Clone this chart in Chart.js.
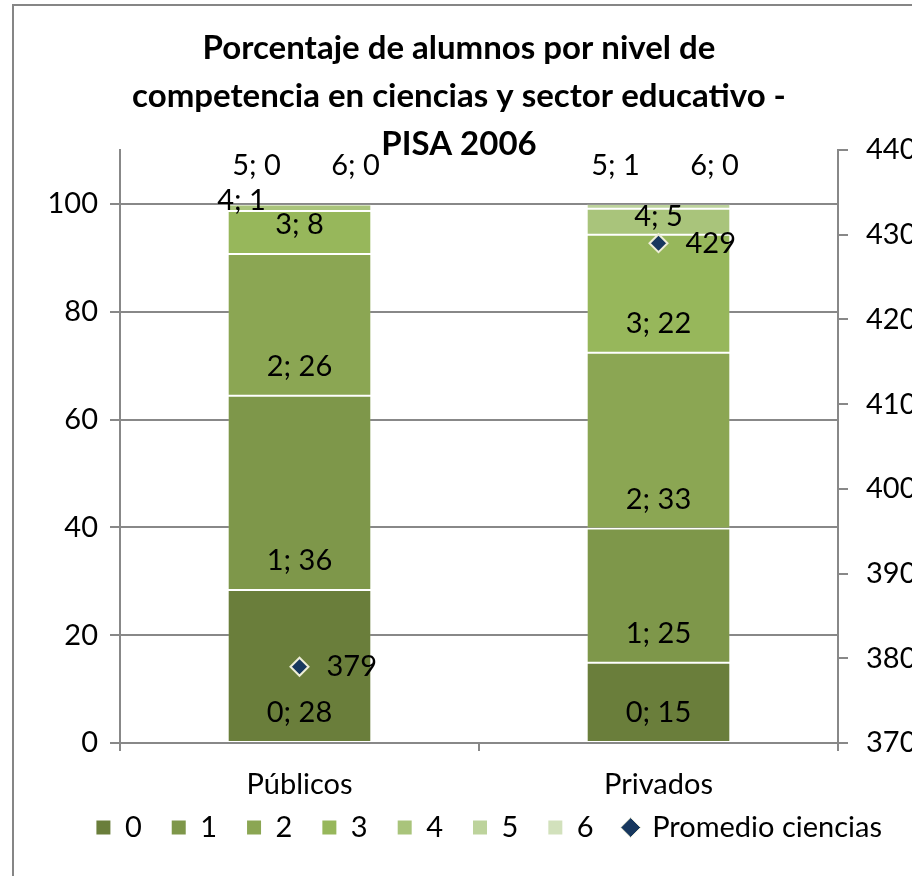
<!DOCTYPE html>
<html>
<head>
<meta charset="utf-8">
<script src="https://cdn.jsdelivr.net/npm/chart.js@4/dist/chart.umd.min.js"></script>
<style>
  html, body { margin: 0; padding: 0; background: #fff; }
  #wrap { width: 912px; height: 876px; }
</style>
</head>
<body>
<div id="wrap"><canvas id="chart" width="912" height="876"></canvas></div>
<script>
// datos PISA 2006, porcentaje por nivel
const categories = ["Públicos", "Privados"];
const levels = ["0", "1", "2", "3", "4", "5", "6"];
const nivel0 = [28.4, 14.9];
const nivel1 = [36.0, 24.9];
const nivel2 = [26.3, 32.6];
const nivel3 = [8.0, 21.9];
const nivel4 = [1.2, 4.8];
const nivel5 = [0.1, 0.9];
const nivel6 = [0.0, 0.0];
const promedio = [379, 429];

const levelData = [nivel0, nivel1, nivel2, nivel3, nivel4, nivel5, nivel6];
const colors = ["#6a7e3b", "#7e974a", "#8ba653", "#97b75b", "#a9c47b", "#bdd39c", "#d2e1bc"];

const FONT = "Lato, 'Open Sans', sans-serif";
const FS = 29;
Chart.defaults.font.family = FONT;
Chart.defaults.font.size = FS;
Chart.defaults.color = "#000";

// excel "inside base" labels, plus the ones it pushed above the bar
function labelSpot(ds, idx, el) {
    const h = el.base - el.y;
    if (ds === 5) return [el.x - 43, el.y - 38];
    if (ds === 6) return [el.x + 56, el.y - 38];
    if (ds === 4 && idx === 0) return [el.x - 58, el.y - 4];
    return [el.x, el.base - Math.min(29, h * 0.7)];
}

const labelsPlugin = {
    id: "valueLabels",
    afterDatasetsDraw(chart) {
        const ctx = chart.ctx;
        ctx.save();
        ctx.font = FS + "px " + FONT;
        ctx.fillStyle = "#000";
        ctx.textBaseline = "middle";
        for (let i = 0; i < levels.length; i++) {
            const meta = chart.getDatasetMeta(i);
            meta.data.forEach((el, j) => {
                const [x, y] = labelSpot(i, j, el);
                ctx.textAlign = "center";
                ctx.fillText(`${levels[i]}; ${Math.round(levelData[i][j])}`, x, y);
            });
        }
        const pm = chart.getDatasetMeta(levels.length);
        pm.data.forEach((el, j) => {
            ctx.textAlign = "left";
            ctx.fillText(String(promedio[j]), el.x + 27, el.y);
        });
        ctx.restore();
    }
};

const frame = {
    id: "frame",
    afterLayout(chart) {
        // pull the legend up a bit, it keeps the wide item padding
        chart.legend.top -= 18;
        chart.legend.bottom -= 18;
    },
    beforeDraw(chart) {
        const ctx = chart.ctx;
        ctx.save();
        ctx.fillStyle = "#fff";
        ctx.fillRect(0, 0, chart.width, chart.height);
        ctx.strokeStyle = "#868686";
        ctx.lineWidth = 2;
        ctx.strokeRect(13, 5, 1000, 1000);
        ctx.restore();
    },
    afterDraw(chart) {
        const ctx = chart.ctx;
        ctx.save();
        ctx.font = "bold 33px " + FONT;
        ctx.fillStyle = "#000";
        ctx.textAlign = "center";
        ctx.textBaseline = "middle";
        const lines = ["Porcentaje de alumnos por nivel de",
            "competencia en ciencias y sector educativo -",
            "PISA 2006"];
        lines.forEach((t, k) => ctx.fillText(t, 459, 48 + k * 48));
        ctx.restore();
    }
};

const datasets = levels.map((lv, i) => ({
    type: "bar",
    label: lv,
    data: levelData[i],
    backgroundColor: colors[i],
    borderColor: "rgba(255,255,255,0.13)",
    borderWidth: 1,
    borderSkipped: false,
    yAxisID: "y",
    order: 1,
    barPercentage: 0.4,
    categoryPercentage: 1
}));

datasets.push({
    type: "line",
    label: "Promedio ciencias",
    data: promedio,
    yAxisID: "y1",
    showLine: false,
    pointStyle: "rectRot",
    pointRadius: 9,
    pointBorderWidth: 2,
    backgroundColor: "#17375e",
    borderColor: "#eeeed8",
    pointBackgroundColor: "#17375e",
    pointBorderColor: "#eeeed8",
    order: -1
});

new Chart(document.getElementById("chart"), {
    data: { labels: categories, datasets },
    options: {
        responsive: false,
        animation: false,
        layout: { padding: { top: 150, left: 0, right: 0, bottom: 6 } },
        plugins: {
            title: { display: false },
            tooltip: { enabled: false },
            legend: {
                position: "bottom",
                align: "end",
                labels: {
                    usePointStyle: true,
                    boxWidth: 14,
                    boxHeight: 14,
                    padding: 30,
                    font: { size: FS },
                    sort: (a, b) => a.datasetIndex - b.datasetIndex,
                    generateLabels(chart) {
                        const items = Chart.defaults.plugins.legend.labels.generateLabels(chart);
                        items.forEach(it => {
                            if (it.datasetIndex < levels.length) {
                                it.pointStyle = "rect";
                                it.lineWidth = 0;
                                it.strokeStyle = "transparent";
                            } else {
                                it.pointStyle = "rectRot";
                                it.lineWidth = 1;
                            }
                        });
                        return items;
                    }
                }
            }
        },
        scales: {
            x: {
                stacked: true,
                offset: true,
                grid: { drawOnChartArea: false, offset: true, tickLength: 8, color: "#888", lineWidth: 2 },
                border: { color: "#888", width: 2 },
                ticks: { padding: 16, font: { size: FS } },
                afterFit(s) { s.height = 58; }
            },
            y: {
                stacked: true,
                position: "left",
                min: 0,
                max: 110,
                ticks: { stepSize: 20, includeBounds: false, padding: 12, font: { size: FS } },
                grid: {
                    color: c => (c.tick && c.tick.value > 100 ? "transparent" : "#888"),
                    lineWidth: 2,
                    tickLength: 10
                },
                border: { color: "#888", width: 2 },
                afterFit(s) { s.width = 120; }
            },
            y1: {
                position: "right",
                min: 370,
                max: 440,
                ticks: { stepSize: 10, padding: 18, font: { size: FS } },
                grid: { drawOnChartArea: false, tickLength: 10, color: "#888", lineWidth: 2 },
                border: { color: "#888", width: 2 },
                afterFit(s) { s.width = 74; }
            }
        }
    },
    plugins: [labelsPlugin, frame]
});
</script>
</body>
</html>
